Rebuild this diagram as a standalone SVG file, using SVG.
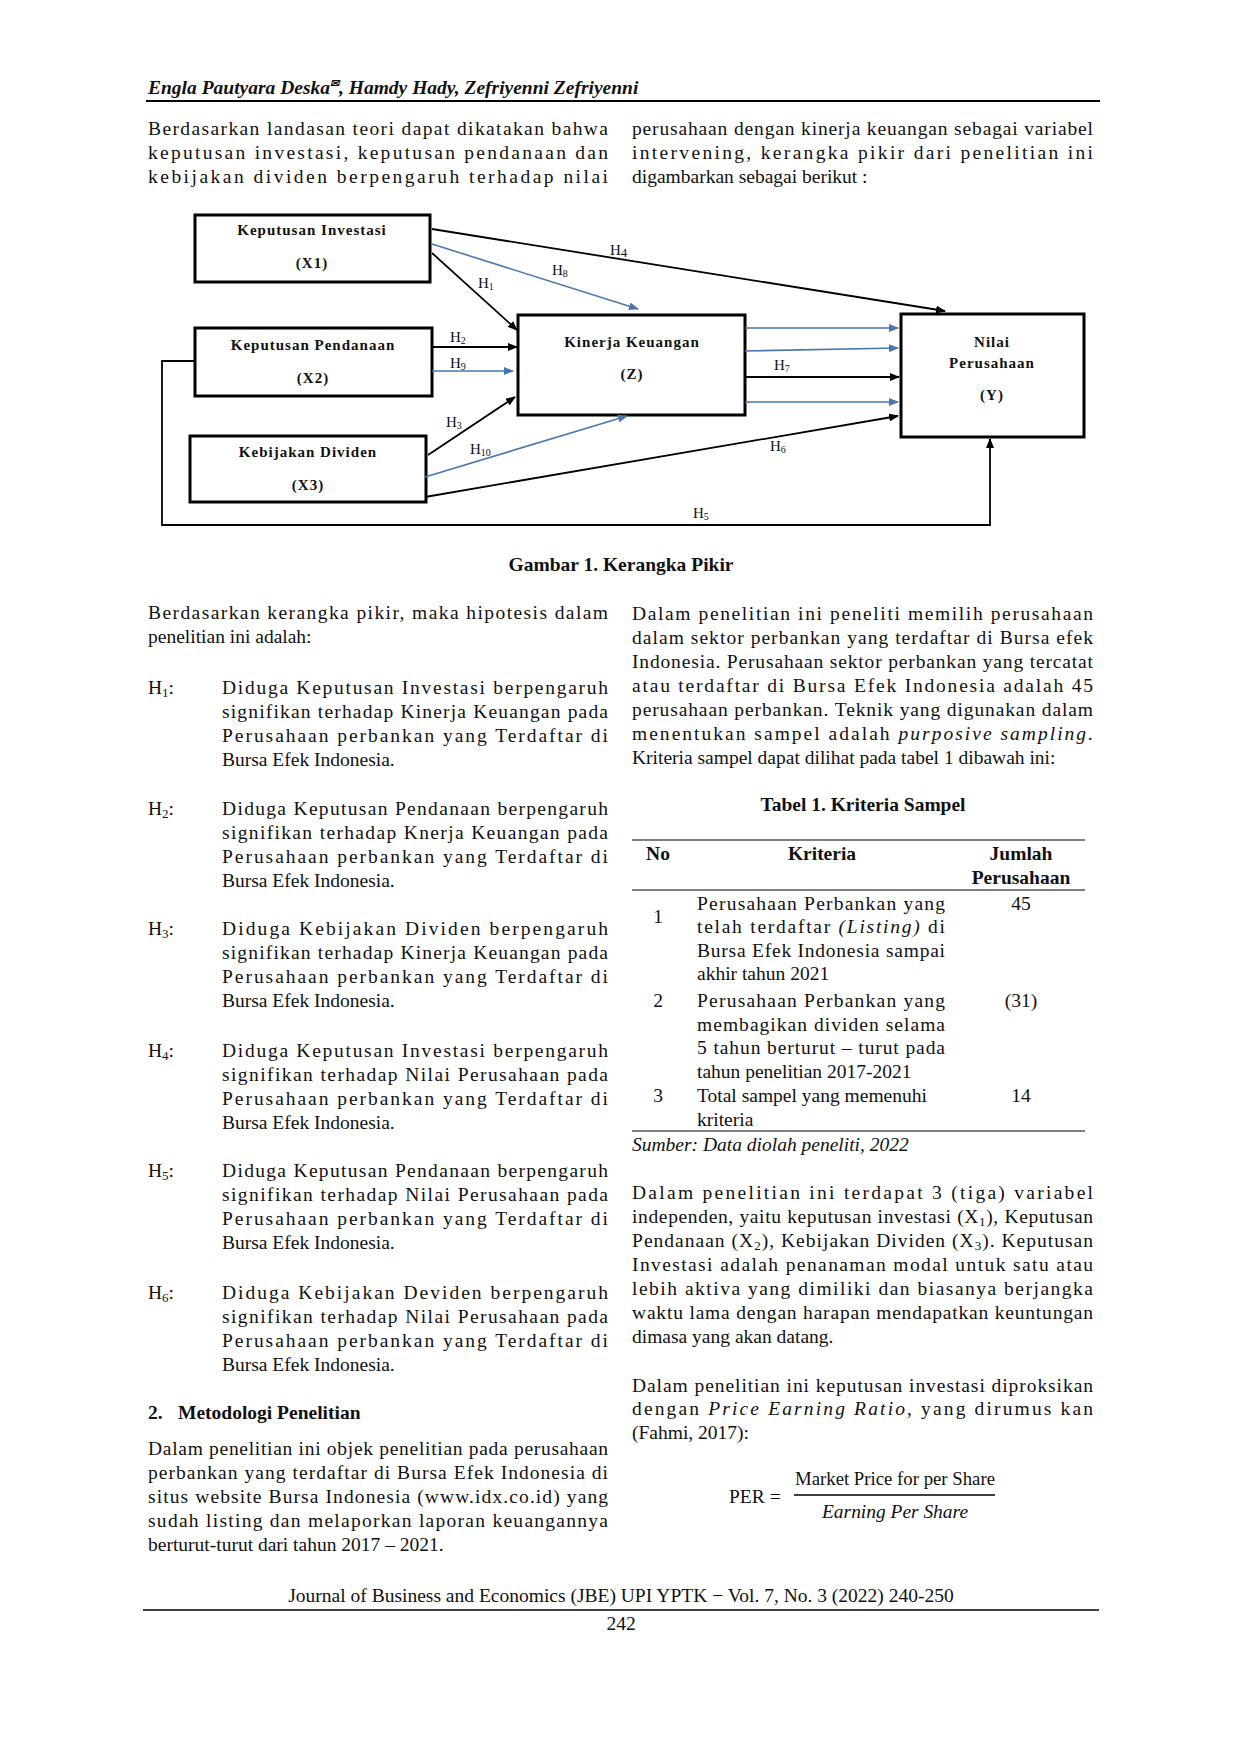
<svg xmlns="http://www.w3.org/2000/svg" width="1240" height="1754" viewBox="0 0 1240 1754">
<style>
text{font-family:"Liberation Serif","Times New Roman",serif;font-size:19.5px;fill:#111}
.b{font-weight:bold}
.i{font-style:italic}
.bx{fill:#fff;stroke:#000;stroke-width:3}
.nl{font-family:"Liberation Serif",serif;font-weight:bold;font-size:15px;letter-spacing:1px;text-anchor:middle}
.hl{font-size:15px}
.k{stroke:#000;stroke-width:1.8;fill:none}
.bl{stroke:#4a76b0;stroke-width:1.6;fill:none}
.s{font-size:13px}
</style>
<defs>
<marker id="ak" markerWidth="10" markerHeight="8" refX="9" refY="4" orient="auto" markerUnits="userSpaceOnUse"><path d="M0,0 L10,4 L0,8 z" fill="#000"/></marker>
<marker id="ab" markerWidth="10" markerHeight="8" refX="9" refY="4" orient="auto" markerUnits="userSpaceOnUse"><path d="M0,0 L10,4 L0,8 z" fill="#4a76b0"/></marker>
</defs>
<!-- header -->
<text x="148" y="94" class="b i" font-size="19">Engla Pautyara Deska<tspan font-size="11" dy="-7">✉</tspan><tspan dy="7">, Hamdy Hady, Zefriyenni Zefriyenni</tspan></text>
<line x1="146" y1="101" x2="1100" y2="101" stroke="#000" stroke-width="2"/>
<text x="148" y="135" textLength="460" lengthAdjust="spacing">Berdasarkan landasan teori dapat dikatakan bahwa</text>
<text x="148" y="159" textLength="460" lengthAdjust="spacing">keputusan investasi, keputusan pendanaan dan</text>
<text x="148" y="183" textLength="460" lengthAdjust="spacing">kebijakan dividen berpengaruh terhadap nilai</text>
<text x="632" y="135" textLength="461" lengthAdjust="spacing">perusahaan dengan  kinerja keuangan sebagai variabel</text>
<text x="632" y="159" textLength="461" lengthAdjust="spacing">intervening, kerangka pikir dari penelitian ini</text>
<text x="632" y="183">digambarkan sebagai berikut :</text>
<!-- diagram nodes -->
<g id="x1"><rect class="bx" x="195" y="215" width="235" height="67"/><text class="nl" x="312" y="235">Keputusan Investasi</text><text class="nl" x="312" y="268">(X1)</text></g>
<g id="x2"><rect class="bx" x="195" y="328" width="237" height="68"/><text class="nl" x="313" y="350">Keputusan Pendanaan</text><text class="nl" x="313" y="383">(X2)</text></g>
<g id="x3"><rect class="bx" x="190" y="436" width="236" height="66"/><text class="nl" x="308" y="457">Kebijakan Dividen</text><text class="nl" x="308" y="490">(X3)</text></g>
<g id="z"><rect class="bx" x="518" y="315" width="227" height="100"/><text class="nl" x="632" y="347">Kinerja Keuangan</text><text class="nl" x="632" y="379">(Z)</text></g>
<g id="y"><rect class="bx" x="901" y="314" width="183" height="123"/><text class="nl" x="992" y="347">Nilai</text><text class="nl" x="992" y="368">Perusahaan</text><text class="nl" x="992" y="400">(Y)</text></g>
<!-- connectors -->
<g id="connectors">
<line class="k" x1="432" y1="229" x2="945" y2="311" marker-end="url(#ak)"/>
<line class="bl" x1="432" y1="244" x2="638" y2="309" marker-end="url(#ab)"/>
<line class="k" x1="432" y1="253" x2="517" y2="330" marker-end="url(#ak)"/>
<line class="k" x1="432" y1="347" x2="517" y2="347" marker-end="url(#ak)"/>
<line class="bl" x1="432" y1="371" x2="513" y2="371" marker-end="url(#ab)"/>
<line class="k" x1="428" y1="455" x2="515" y2="397" marker-end="url(#ak)"/>
<line class="bl" x1="425" y1="477" x2="627" y2="416" marker-end="url(#ab)"/>
<line class="k" x1="425" y1="497" x2="898" y2="416" marker-end="url(#ak)"/>
<line class="bl" x1="745" y1="328" x2="898" y2="328" marker-end="url(#ab)"/>
<line class="bl" x1="745" y1="351" x2="898" y2="348" marker-end="url(#ab)"/>
<line class="k" x1="745" y1="377" x2="899" y2="377" marker-end="url(#ak)"/>
<line class="bl" x1="745" y1="402" x2="898" y2="402" marker-end="url(#ab)"/>
<polyline class="k" points="195,361 162,361 162,525 990,525 990,439" marker-end="url(#ak)"/>
<text class="hl" x="610" y="255">H<tspan class="s" font-size="10" dy="2">4</tspan></text>
<text class="hl" x="552" y="275">H<tspan font-size="10" dy="2">8</tspan></text>
<text class="hl" x="478" y="288">H<tspan font-size="10" dy="2">1</tspan></text>
<text class="hl" x="450" y="342">H<tspan font-size="10" dy="2">2</tspan></text>
<text class="hl" x="450" y="368">H<tspan font-size="10" dy="2">9</tspan></text>
<text class="hl" x="446" y="427">H<tspan font-size="10" dy="2">3</tspan></text>
<text class="hl" x="470" y="454">H<tspan font-size="10" dy="2">10</tspan></text>
<text class="hl" x="770" y="451">H<tspan font-size="10" dy="2">6</tspan></text>
<text class="hl" x="774" y="370">H<tspan font-size="10" dy="2">7</tspan></text>
<text class="hl" x="693" y="518">H<tspan font-size="10" dy="2">5</tspan></text>
</g>
<text x="621" y="571" class="b" text-anchor="middle">Gambar 1. Kerangka Pikir</text>
<!-- left column -->
<text x="148" y="619" textLength="460" lengthAdjust="spacing">Berdasarkan kerangka pikir, maka hipotesis dalam</text>
<text x="148" y="643">penelitian ini adalah:</text>
<g id="h1"><text x="148" y="694">H<tspan class="s" dy="3">1</tspan><tspan dy="-3">:</tspan></text>
<text x="222" y="694" textLength="386" lengthAdjust="spacing">Diduga Keputusan Investasi berpengaruh</text>
<text x="222" y="718" textLength="386" lengthAdjust="spacing">signifikan terhadap Kinerja Keuangan pada</text>
<text x="222" y="742" textLength="386" lengthAdjust="spacing">Perusahaan perbankan yang Terdaftar di</text>
<text x="222" y="766">Bursa Efek Indonesia.</text></g>
<g id="h2"><text x="148" y="815">H<tspan class="s" dy="3">2</tspan><tspan dy="-3">:</tspan></text>
<text x="222" y="815" textLength="386" lengthAdjust="spacing">Diduga Keputusan Pendanaan berpengaruh</text>
<text x="222" y="839" textLength="386" lengthAdjust="spacing">signifikan terhadap Knerja Keuangan pada</text>
<text x="222" y="863" textLength="386" lengthAdjust="spacing">Perusahaan perbankan yang Terdaftar di</text>
<text x="222" y="887">Bursa Efek Indonesia.</text></g>
<g id="h3"><text x="148" y="935">H<tspan class="s" dy="3">3</tspan><tspan dy="-3">:</tspan></text>
<text x="222" y="935" textLength="386" lengthAdjust="spacing">Diduga Kebijakan Dividen berpengaruh</text>
<text x="222" y="959" textLength="386" lengthAdjust="spacing">signifikan terhadap Kinerja Keuangan pada</text>
<text x="222" y="983" textLength="386" lengthAdjust="spacing">Perusahaan perbankan yang Terdaftar di</text>
<text x="222" y="1007">Bursa Efek Indonesia.</text></g>
<g id="h4"><text x="148" y="1057">H<tspan class="s" dy="3">4</tspan><tspan dy="-3">:</tspan></text>
<text x="222" y="1057" textLength="386" lengthAdjust="spacing">Diduga Keputusan Investasi berpengaruh</text>
<text x="222" y="1081" textLength="386" lengthAdjust="spacing">signifikan terhadap Nilai Perusahaan pada</text>
<text x="222" y="1105" textLength="386" lengthAdjust="spacing">Perusahaan perbankan yang Terdaftar di</text>
<text x="222" y="1129">Bursa Efek Indonesia.</text></g>
<g id="h5"><text x="148" y="1177">H<tspan class="s" dy="3">5</tspan><tspan dy="-3">:</tspan></text>
<text x="222" y="1177" textLength="386" lengthAdjust="spacing">Diduga Keputusan Pendanaan berpengaruh</text>
<text x="222" y="1201" textLength="386" lengthAdjust="spacing">signifikan terhadap Nilai Perusahaan pada</text>
<text x="222" y="1225" textLength="386" lengthAdjust="spacing">Perusahaan perbankan yang Terdaftar di</text>
<text x="222" y="1249">Bursa Efek Indonesia.</text></g>
<g id="h6"><text x="148" y="1299">H<tspan class="s" dy="3">6</tspan><tspan dy="-3">:</tspan></text>
<text x="222" y="1299" textLength="386" lengthAdjust="spacing">Diduga Kebijakan Deviden berpengaruh</text>
<text x="222" y="1323" textLength="386" lengthAdjust="spacing">signifikan terhadap Nilai Perusahaan pada</text>
<text x="222" y="1347" textLength="386" lengthAdjust="spacing">Perusahaan perbankan yang Terdaftar di</text>
<text x="222" y="1371">Bursa Efek Indonesia.</text></g>
<text x="148" y="1419" class="b">2.</text><text x="178" y="1419" class="b">Metodologi Penelitian</text>
<text x="148" y="1455" textLength="460" lengthAdjust="spacing">Dalam penelitian ini objek penelitian pada perusahaan</text>
<text x="148" y="1479" textLength="460" lengthAdjust="spacing">perbankan yang terdaftar di Bursa Efek Indonesia di</text>
<text x="148" y="1503" textLength="460" lengthAdjust="spacing">situs website Bursa Indonesia (www.idx.co.id) yang</text>
<text x="148" y="1527" textLength="460" lengthAdjust="spacing">sudah listing dan melaporkan laporan keuangannya</text>
<text x="148" y="1551">berturut-turut dari tahun 2017 – 2021.</text>
<!-- right column -->
<text x="632" y="620" textLength="461" lengthAdjust="spacing">Dalam penelitian ini peneliti memilih perusahaan</text>
<text x="632" y="644" textLength="461" lengthAdjust="spacing">dalam sektor perbankan yang terdaftar di Bursa efek</text>
<text x="632" y="668" textLength="461" lengthAdjust="spacing">Indonesia. Perusahaan sektor perbankan yang tercatat</text>
<text x="632" y="692" textLength="461" lengthAdjust="spacing">atau terdaftar di Bursa Efek Indonesia adalah 45</text>
<text x="632" y="716" textLength="461" lengthAdjust="spacing">perusahaan perbankan. Teknik yang digunakan dalam</text>
<text x="632" y="740" textLength="461" lengthAdjust="spacing">menentukan sampel adalah <tspan class="i">purposive sampling.</tspan></text>
<text x="632" y="764">Kriteria sampel dapat dilihat pada tabel 1 dibawah ini:</text>
<text x="863" y="811" class="b" text-anchor="middle">Tabel 1. Kriteria Sampel</text>
<g id="table">
<line x1="632" y1="840" x2="1085" y2="840" stroke="#000" stroke-width="1.2"/>
<line x1="632" y1="890" x2="1085" y2="890" stroke="#000" stroke-width="1.2"/>
<line x1="632" y1="1131" x2="1085" y2="1131" stroke="#000" stroke-width="1.2"/>
<text x="658" y="860" class="b" text-anchor="middle">No</text>
<text x="822" y="860" class="b" text-anchor="middle">Kriteria</text>
<text x="1021" y="860" class="b" text-anchor="middle">Jumlah</text>
<text x="1021" y="884" class="b" text-anchor="middle">Perusahaan</text>
<text x="658" y="923" text-anchor="middle">1</text>
<text x="697" y="910" textLength="248" lengthAdjust="spacing">Perusahaan Perbankan yang</text>
<text x="697" y="933" textLength="248" lengthAdjust="spacing">telah terdaftar <tspan class="i">(Listing)</tspan> di</text>
<text x="697" y="957" textLength="248" lengthAdjust="spacing">Bursa Efek Indonesia sampai</text>
<text x="697" y="980">akhir tahun 2021</text>
<text x="1021" y="910" text-anchor="middle">45</text>
<text x="658" y="1007" text-anchor="middle">2</text>
<text x="697" y="1007" textLength="248" lengthAdjust="spacing">Perusahaan Perbankan yang</text>
<text x="697" y="1031" textLength="248" lengthAdjust="spacing">membagikan dividen selama</text>
<text x="697" y="1054" textLength="248" lengthAdjust="spacing">5 tahun berturut – turut pada</text>
<text x="697" y="1078">tahun penelitian 2017-2021</text>
<text x="1021" y="1007" text-anchor="middle">(31)</text>
<text x="658" y="1102" text-anchor="middle">3</text>
<text x="697" y="1102">Total sampel yang memenuhi</text>
<text x="697" y="1126">kriteria</text>
<text x="1021" y="1102" text-anchor="middle">14</text>
</g>
<text x="632" y="1151" class="i">Sumber: Data diolah peneliti, 2022</text>
<text x="632" y="1199" textLength="461" lengthAdjust="spacing">Dalam penelitian ini terdapat 3 (tiga) variabel</text>
<text x="632" y="1223" textLength="461" lengthAdjust="spacing">independen, yaitu keputusan investasi (X<tspan class="s" dy="3">1</tspan><tspan dy="-3">), Keputusan</tspan></text>
<text x="632" y="1247" textLength="461" lengthAdjust="spacing">Pendanaan (X<tspan class="s" dy="3">2</tspan><tspan dy="-3">), Kebijakan Dividen (X</tspan><tspan class="s" dy="3">3</tspan><tspan dy="-3">). Keputusan</tspan></text>
<text x="632" y="1271" textLength="461" lengthAdjust="spacing">Investasi adalah penanaman modal untuk satu atau</text>
<text x="632" y="1295" textLength="461" lengthAdjust="spacing">lebih aktiva yang dimiliki dan biasanya berjangka</text>
<text x="632" y="1319" textLength="461" lengthAdjust="spacing">waktu lama dengan harapan mendapatkan keuntungan</text>
<text x="632" y="1343">dimasa yang akan datang.</text>
<text x="632" y="1392" textLength="461" lengthAdjust="spacing">Dalam penelitian ini keputusan investasi diproksikan</text>
<text x="632" y="1415" textLength="461" lengthAdjust="spacing">dengan <tspan class="i">Price Earning Ratio</tspan>, yang dirumus kan</text>
<text x="632" y="1439">(Fahmi, 2017):</text>
<g id="formula">
<text x="729" y="1503">PER =</text>
<line x1="794" y1="1495" x2="995" y2="1495" stroke="#000" stroke-width="1.5"/>
<text x="895" y="1485" text-anchor="middle" font-family="Liberation Sans Narrow,Liberation Sans,sans-serif" font-size="17" textLength="200" lengthAdjust="spacingAndGlyphs">Market Price for per Share</text>
<text x="895" y="1518" text-anchor="middle" class="i" font-family="Liberation Sans Narrow,Liberation Sans,sans-serif" font-size="17" textLength="146" lengthAdjust="spacingAndGlyphs">Earning Per Share</text>
</g>
<!-- footer -->
<text x="621" y="1602" text-anchor="middle">Journal of Business and Economics (JBE) UPI YPTK − Vol. 7, No. 3 (2022) 240-250</text>
<line x1="143" y1="1610" x2="1099" y2="1610" stroke="#000" stroke-width="1.5"/>
<text x="621" y="1630" text-anchor="middle">242</text>
</svg>
